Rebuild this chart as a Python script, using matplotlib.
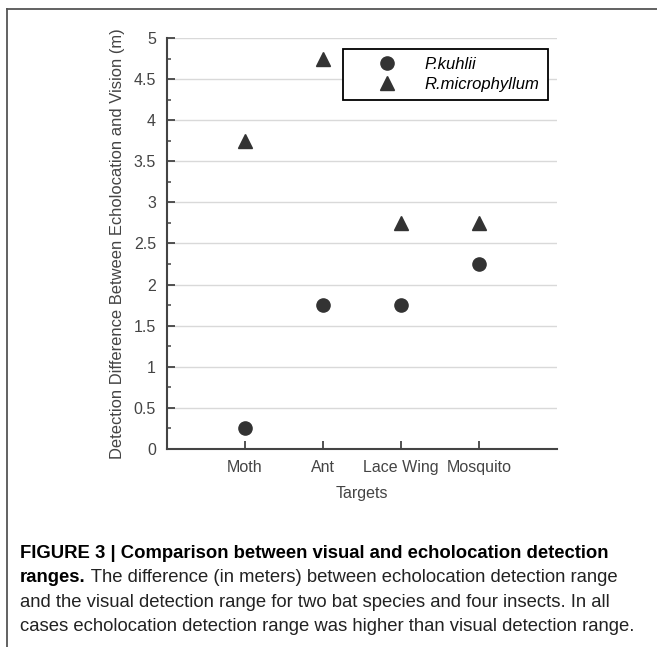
#!/usr/bin/env python3

"""Detection difference between echolocation and vision, per target insect."""

import matplotlib
matplotlib.use("Agg")
import matplotlib.pyplot as plt
from matplotlib.lines import Line2D

# data
TARGETS = ['Moth', 'Ant', 'Lace Wing', 'Mosquito']
P_KUHLII = [0.25, 1.75, 1.75, 2.25]
R_MICROPHYLLUM = [3.75, 4.75, 2.75, 2.75]
Y_TICKS = [0, 0.5, 1, 1.5, 2, 2.5, 3, 3.5, 4, 4.5, 5]
Y_TICK_LABELS = ['0', '0.5', '1', '1.5', '2', '2.5', '3', '3.5', '4', '4.5', '5']
Y_MINOR = [0.25, 0.75, 1.25, 1.75, 2.25, 2.75, 3.25, 3.75, 4.25, 4.75]

CAPTION_BOLD = "FIGURE 3 | Comparison between visual and echolocation detection"
CAPTION_BOLD2 = "ranges."
CAPTION_REST = [" The difference (in meters) between echolocation detection range",
                "and the visual detection range for two bat species and four insects. In all",
                "cases echolocation detection range was higher than visual detection range."]

MARK = '#333333'
AXC = '#444444'


def main():
    plt.rcParams['font.family'] = ['Liberation Sans', 'DejaVu Sans']
    fig = plt.figure(figsize=(6.57, 6.47), dpi=100)
    ax = fig.add_axes([0.2542, 0.306, 0.5936, 0.6353])

    x = list(range(1, len(TARGETS) + 1))
    ax.plot(x, P_KUHLII, linestyle='none', marker='o', markersize=9.5,
            color=MARK, label='P.kuhlii')
    ax.plot(x, R_MICROPHYLLUM, linestyle='none', marker='^', markersize=10.5,
            color=MARK, label='R.microphyllum')

    ax.set_xlim(0, 5)
    ax.set_ylim(0, 5)
    ax.set_xticks(x)
    ax.set_xticklabels(TARGETS)
    ax.set_yticks(Y_TICKS)
    ax.set_yticklabels(Y_TICK_LABELS)
    ax.set_yticks(Y_MINOR, minor=True)
    ax.grid(axis='y', which='major', color='#d9d9d9', linewidth=1)
    ax.set_axisbelow(True)

    for side in ['top', 'right']:
        ax.spines[side].set_visible(False)
    for side in ['left', 'bottom']:
        ax.spines[side].set_color(AXC)
        ax.spines[side].set_linewidth(1.5)
    ax.tick_params(axis='both', which='major', direction='in', length=6, width=1.3,
                   color=AXC, labelcolor=AXC, labelsize=11.5, pad=8)
    ax.tick_params(axis='y', which='minor', direction='in', length=3, width=1.1, color=AXC)
    ax.tick_params(axis='x', pad=8)

    ax.set_xlabel('Targets', color=AXC, fontsize=11.5, labelpad=8)
    ax.set_ylabel('Detection Difference Between Echolocation and Vision (m)',
                  color=AXC, fontsize=11.9, labelpad=6)

    leg = ax.legend(loc='upper left', bbox_to_anchor=(176 / 390, 400 / 411),
                    prop={'style': 'italic', 'size': 12},
                    fancybox=False, framealpha=1, edgecolor='black',
                    handlelength=4.3, handletextpad=0.1, borderpad=0.5,
                    labelspacing=0.28, borderaxespad=0)
    leg.get_frame().set_linewidth(1.3)

    # caption
    fs = 13.3
    top = 1 - 558 / 647
    step = 24.3 / 647
    fig.text(20 / 657, top, CAPTION_BOLD, fontsize=fs, fontweight='bold',
             va='baseline', ha='left')
    t2 = fig.text(20 / 657, top - step, CAPTION_BOLD2, fontsize=fs,
                  fontweight='bold', va='baseline', ha='left')
    fig.canvas.draw()
    ax.annotate(CAPTION_REST[0], xy=(1, 0), xycoords=t2, fontsize=fs,
                va='bottom', ha='left', annotation_clip=False, color='#222222')
    fig.text(20 / 657, top - 2 * step, CAPTION_REST[1], fontsize=fs,
             va='baseline', ha='left', color='#222222')
    fig.text(20 / 657, top - 3 * step, CAPTION_REST[2], fontsize=fs,
             va='baseline', ha='left', color='#222222')

    # outer frame (top and left edges visible)
    fig.add_artist(Line2D([7 / 657, 1], [1 - 9 / 647, 1 - 9 / 647],
                          transform=fig.transFigure, color='#555555', linewidth=1.3))
    fig.add_artist(Line2D([7 / 657, 7 / 657], [0, 1 - 9 / 647],
                          transform=fig.transFigure, color='#555555', linewidth=1.3))

    fig.savefig('out.png', dpi=100)


if __name__ == "__main__":
    main()
